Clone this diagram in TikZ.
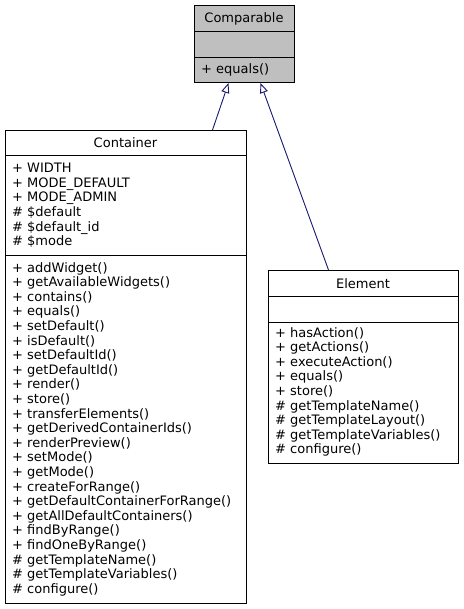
\documentclass[tikz,border=0pt]{standalone}
\usepackage{fontspec}
\setmainfont{DejaVu Sans}
\usetikzlibrary{arrows.meta,positioning}
\definecolor{edgeblue}{HTML}{191970}
\tikzset{%
  classbox/.style={draw,line width=1pt,inner sep=0,anchor=north west},
  cname/.style={font=\fontsize{13}{14}\selectfont,inner sep=0,anchor=base},
  members/.style={font=\fontsize{13}{14.6}\selectfont,inner sep=0,align=left,anchor=north west},
  inherit/.style={draw=edgeblue,line width=0.9pt,-{Triangle[open,length=10pt,width=8pt]}}
}
\begin{document}
\begin{tikzpicture}[x=1pt,y=-1pt]
  \useasboundingbox (0,0) rectangle (463,609);
  % class boxes
  \node[classbox,fill=gray!50,minimum width=100pt,minimum height=77pt] (cmp) at (194,5) {};
  \node[classbox,minimum width=241pt,minimum height=473pt] (ctr) at (5,130) {};
  \node[classbox,minimum width=190pt,minimum height=193pt] (elm) at (268,270) {};
  % compartments
  \draw ([yshift=-26pt]cmp.north west) -- ([yshift=-26pt]cmp.north east);
  \draw ([yshift=-52pt]cmp.north west) -- ([yshift=-52pt]cmp.north east);
  \draw ([yshift=-25pt]ctr.north west) -- ([yshift=-25pt]ctr.north east);
  \draw ([yshift=-125pt]ctr.north west) -- ([yshift=-125pt]ctr.north east);
  \draw ([yshift=-26pt]elm.north west) -- ([yshift=-26pt]elm.north east);
  \draw ([yshift=-52pt]elm.north west) -- ([yshift=-52pt]elm.north east);
  % names
  \node[cname] (cmp_name) at (244,23) {Comparable};
  \node[cname] (ctr_name) at (125.5,148) {Container};
  \node[cname] (elm_name) at (363,288) {Element};
  % members
  \node[members] (cmp_ops) at (201,63) {+ equals()};
  \node[members] (ctr_attr) at (12,163) {+ WIDTH\\+ MODE\_DEFAULT\\+ MODE\_ADMIN\\\# \$default\\\# \$default\_id\\\# \$mode};
  \node[members] (ctr_ops) at (12,262) {+ addWidget()\\+ getAvailableWidgets()\\+ contains()\\+ equals()\\+ setDefault()\\+ isDefault()\\+ setDefaultId()\\+ getDefaultId()\\+ render()\\+ store()\\+ transferElements()\\+ getDerivedContainerIds()\\+ renderPreview()\\+ setMode()\\+ getMode()\\+ createForRange()\\+ getDefaultContainerForRange()\\+ getAllDefaultContainers()\\+ findByRange()\\+ findOneByRange()\\\# getTemplateName()\\\# getTemplateVariables()\\\# configure()};
  \node[members] (elm_ops) at (275,327) {+ hasAction()\\+ getActions()\\+ executeAction()\\+ equals()\\+ store()\\\# getTemplateName()\\\# getTemplateLayout()\\\# getTemplateVariables()\\\# configure()};
  % inheritance
  \draw[inherit] ([xshift=86.5pt]ctr.north) -- ([xshift=-16pt]cmp.south);
  \draw[inherit] ([xshift=-35pt]elm.north) -- ([xshift=16pt]cmp.south);
\end{tikzpicture}
\end{document}
